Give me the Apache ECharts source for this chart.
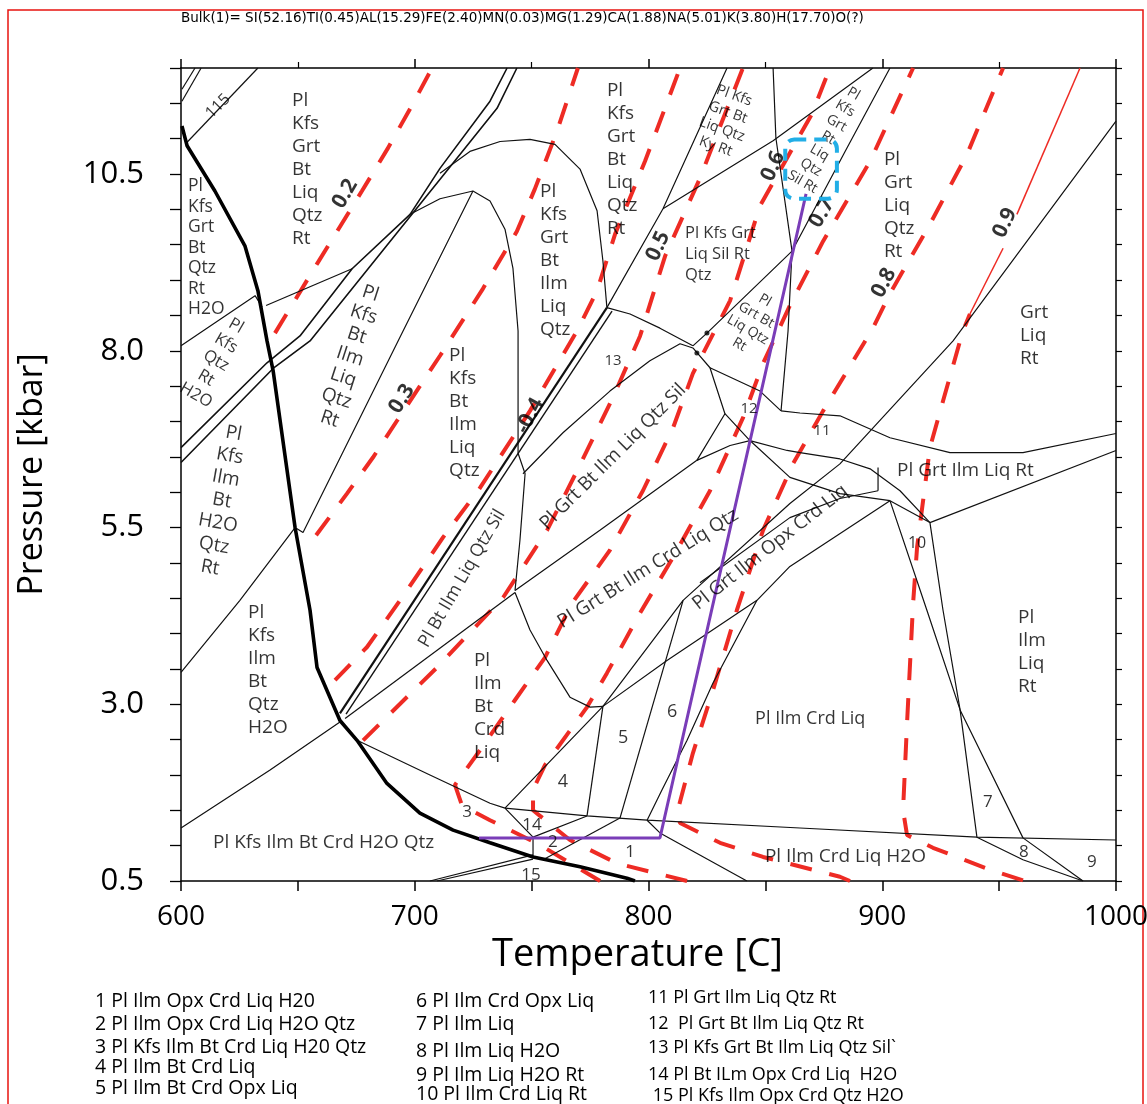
<!DOCTYPE html>
<html lang="en">
<head>
<meta charset="UTF-8">
<title>P-T pseudosection</title>
<script src="https://cdn.jsdelivr.net/npm/echarts@6/dist/echarts.min.js"></script>
<style>
  body{margin:0;background:#fff;}
  #chart{width:1147px;height:1104px;}
</style>
</head>
<body>
<div id="chart"></div>
<script>
// bulk composition header
var bulkTitle = 'Bulk(1)= SI(52.16)TI(0.45)AL(15.29)FE(2.40)MN(0.03)MG(1.29)CA(1.88)NA(5.01)K(3.80)H(17.70)O(?)';

// --- field boundaries, [T (C), P (kbar)] ---
var solidus = [[600.4,11.18],[602.6,10.90],[614.5,10.26],[627.4,9.48],[632.9,8.85],[636.8,8.14],[639.4,7.72],[648.8,5.50],[655.2,4.33],[658.2,3.52],[668.0,2.77],[675.3,2.49],[688.1,1.88],[702.2,1.46],[716.4,1.22],[732.2,1.04],[750.6,0.84],[770.7,0.70],[790.8,0.54],[794.2,0.50]];
var bundleA = [[600,6.63],[636.8,7.83],[650.9,8.21],[673.2,9.16],[698.0,9.93],[710.8,10.58],[732.2,11.53],[739.5,12.0]];
var bundleB = [[600,6.42],[639.4,7.75],[655.2,8.14],[712.9,10.51],[735.2,11.43],[743.7,12.0]];
var bundleC1 = [[668.0,2.87],[782.2,8.61]];
var bundleC2 = [[670.6,2.86],[784.4,8.56]];
var boundaries = [
  [[632.9,12.0],[602.6,10.95]],
  [[608.6,12.0],[600.4,11.53]],
  [[606.0,12.0],[600.4,11.70]],
  [[600,8.07],[631.7,8.78],[634.7,8.62]],
  [[636.4,8.64],[673.2,9.16]],
  [[710.8,10.51],[723.6,10.82],[736.5,10.96],[749.3,10.99],[760.0,10.92],[770.7,10.57],[778.0,9.98],[780.5,9.27],[782.2,8.61]],
  [[698.0,9.93],[710.8,10.15],[724.9,10.26],[732.2,10.12],[738.6,9.72],[742.0,9.17],[744.2,8.28],[744.2,6.55],[747.2,6.26],[745.0,5.32],[742.9,4.61]],
  [[600,3.45],[625.2,4.47],[648.8,5.50],[652.2,5.43],[695.0,8.28],[724.9,10.26]],
  [[600,1.25],[638.1,2.07],[668.0,2.75]],
  [[782.2,8.61],[806.2,10.01],[833.6,12.0]],
  [[806.2,10.01],[853.3,10.97],[896.0,12.0]],
  [[853.3,12.0],[854.5,11.01],[861.4,9.41]],
  [[903.3,12.0],[884.1,10.82],[864.8,9.62],[861.4,9.41]],
  [[819.0,8.07],[825.0,8.25],[861.4,9.41]],
  [[861.4,9.41],[859.7,8.28],[856.7,7.15]],
  [[782.2,8.61],[792.1,8.52],[804.9,8.32],[819.0,8.07]],
  [[746.3,6.26],[763.4,6.84],[783.5,7.43],[800.6,7.86],[813.5,8.10],[819.0,8.04]],
  [[819.0,8.04],[826.3,7.76],[832.7,7.11],[820.7,6.45]],
  [[826.3,7.76],[847.7,7.43],[856.7,7.15]],
  [[832.7,7.11],[843.4,6.73],[859.3,6.59],[864.8,6.56]],
  [[820.7,6.45],[834.9,6.66],[843.4,6.73]],
  [[843.4,6.73],[860.5,6.21],[881.9,5.98],[903.3,5.88]],
  [[742.9,4.61],[779.2,5.46],[820.7,6.45]],
  [[856.7,7.15],[864.8,7.12],[881.9,7.08],[903.3,6.77],[929.0,6.56],[960.2,6.56],[1000,6.83]],
  [[920.4,5.57],[1000,6.59]],
  [[864.8,6.56],[881.9,6.47],[894.8,6.33],[907.6,6.02],[920.4,5.57]],
  [[1000,11.25],[930.3,8.14],[881.9,6.40],[860.5,5.84],[814.8,4.47],[780.5,2.97],[738.6,1.53]],
  [[822.0,4.72],[860.5,5.64],[881.9,5.91],[898.2,6.02]],
  [[780.5,2.97],[807.9,3.62],[846.4,4.47],[860.5,4.95],[903.3,5.88]],
  [[898.2,6.35],[898.2,6.02]],
  [[903.3,5.88],[920.4,5.57]],
  [[903.3,5.88],[919.1,4.33],[933.3,2.92],[960.2,1.11],[985.9,0.5]],
  [[920.4,5.57],[926.0,4.33],[933.3,2.92],[940.5,1.12],[960.2,0.80],[985.9,0.5]],
  [[738.6,1.53],[773.7,1.42],[799.4,1.36],[864.8,1.25],[940.5,1.12],[1000,1.08]],
  [[742.9,4.58],[749.3,4.05],[756.6,3.62],[766.4,3.10],[775.0,2.96],[780.5,2.97]],
  [[780.5,2.97],[773.7,1.42]],
  [[814.8,4.47],[787.8,1.39]],
  [[846.4,4.47],[827.6,3.30],[816.5,2.49],[805.8,1.79],[799.4,1.36]],
  [[675.3,2.49],[706.5,2.00],[732.2,1.60],[738.6,1.53]],
  [[738.6,1.53],[750.6,1.12],[773.7,1.42]],
  [[750.6,1.12],[750.6,0.84]],
  [[754.9,0.80],[787.8,1.39]],
  [[799.4,1.36],[804.9,1.18],[842.1,0.5]],
  [[706.5,0.5],[750.6,0.87]],
  [[709.5,0.5],[750.6,0.81]],
  [[670.2,2.80],[742.9,4.58]]
];
var junctionDots = [[825.0,8.25],[820.7,7.97]];

// --- isopleths (red dashed) ---
var iso02 = [[640.2,8.25],[658.2,9.23],[677.4,10.26],[688.6,10.87],[699.3,11.50],[707.4,12.0]];
var iso03 = [[657.8,5.39],[671.0,5.98],[682.1,6.49],[692.4,7.01],[710.8,7.93],[729.2,8.88],[743.7,9.69],[751.4,10.29],[760.9,11.11],[769.8,12.0]];
var iso04 = [[665.9,3.34],[679.6,3.81],[693.7,4.47],[712.1,5.36],[727.9,6.06],[749.3,7.15],[769.4,8.28],[778.0,8.85],[785.7,9.65],[798.5,10.68],[813.5,12.0]];
var iso05 = [[677.9,2.49],[709.5,3.52],[737.8,4.51],[756.6,5.46],[769.4,6.30],[784.8,7.34],[796.4,8.21],[807.1,9.34],[822.0,10.44],[840.4,12.0]];
var iso06 = [[779.3,0.50],[753.6,1.01],[732.2,1.36],[720.2,1.57],[717.2,1.86],[727.9,2.35],[742.9,3.06],[755.7,3.66],[767.3,4.43],[783.5,5.18],[797.6,6.02],[810.5,6.91],[819.0,7.68],[834.9,8.71],[847.7,10.05],[869.9,11.35],[877.6,12.0]];
var iso07 = [[816.5,0.50],[786.5,0.75],[766.4,1.08],[750.6,1.50],[750.6,1.79],[755.7,2.14],[773.7,2.96],[782.2,3.44],[796.4,4.29],[810.5,5.08],[826.3,6.02],[840.4,7.05],[849.0,7.82],[860.5,8.64],[874.7,9.55],[894.8,10.68],[913.2,12.0]];
var iso08 = [[886.2,0.5],[881.9,0.56],[849.0,0.84],[830.6,1.04],[813.5,1.32],[812.2,1.46],[819.0,2.31],[827.6,3.20],[837.8,4.33],[849.0,5.46],[861.8,6.40],[874.7,7.15],[896.0,8.32],[903.3,8.81],[920.4,9.79],[936.3,10.78],[951.7,12.0]];
var iso09 = [[960.2,0.51],[946.1,0.66],[921.7,0.97],[910.6,1.15],[908.9,1.50],[910.6,2.73],[913.2,4.43],[914.9,5.22],[920.4,6.63],[926.0,7.29],[934.5,8.28],[937.5,8.52]];
var iso09solidLow = [[937.5,8.52],[951.7,9.45]];
var iso09solidHigh = [[957.6,9.93],[984.6,12.0]];

// --- P-T path ---
var ptPath = [[727.5,1.11],[804.9,1.11],[867.4,10.22]];
var boxCorners = [[858.5,10.99],[880.6,10.15]];

// --- field / isopleth labels: [T, P, text, rotation, size, lineHeight, align] ---
var fieldLabels = [
  [647.5,10.56,'Pl\nKfs\nGrt\nBt\nLiq\nQtz\nRt',0,19,23,'left'],
  [603.0,9.46,'Pl\nKfs\nGrt\nBt\nQtz\nRt\nH2O',0,17.5,20.5,'left'],
  [714.7,7.12,'Pl\nKfs\nBt\nIlm\nLiq\nQtz',0,19,23,'left'],
  [753.6,9.27,'Pl\nKfs\nGrt\nBt\nIlm\nLiq\nQtz',0,19,23,'left'],
  [782.2,10.70,'Pl\nKfs\nGrt\nBt\nLiq\nQtz\nRt',0,19,23,'left'],
  [815.6,9.36,'Pl Kfs Grt\nLiq Sil Rt\nQtz',0,16.5,21,'left'],
  [900.7,10.06,'Pl\nGrt\nLiq\nQtz\nRt',0,19,23,'left'],
  [958.9,8.21,'Grt\nLiq\nRt',0,19,23,'left'],
  [906.3,6.30,'Pl Grt Ilm Liq Rt',0,19,20,'left'],
  [958.1,3.74,'Pl\nIlm\nLiq\nRt',0,19,23,'left'],
  [845.6,2.80,'Pl Ilm Crd Liq',0,18,20,'left'],
  [849.8,0.84,'Pl Ilm Crd Liq H2O',0,19,20,'left'],
  [613.7,1.05,'Pl Kfs Ilm Bt Crd H2O Qtz',0,19,20,'left'],
  [628.7,3.48,'Pl\nKfs\nIlm\nBt\nQtz\nH2O',0,19,23,'left'],
  [725.3,2.97,'Pl\nIlm\nBt\nCrd\nLiq',0,19,23,'left'],
  [615.0,7.86,'Pl\nKfs\nQtz\nRt\nH2O',-30,16.5,20,'center'],
  [672.3,7.92,'Pl\nKfs\nBt\nIlm\nLiq\nQtz\nRt',-18,19,22,'center'],
  [617.5,5.88,'Pl\nKfs\nIlm\nBt\nH2O\nQtz\nRt',-10,19,22.7,'center'],
  [832.7,11.25,'Pl Kfs\nGrt Bt\nLiq Qtz\nKy Rt',-20,14.5,18,'center'],
  [876.8,11.01,'Pl\nKfs\nGrt\nRt\nLiq\nQtz\nSil Rt',-30,14,17,'center'],
  [844.3,8.40,'Pl\nGrt Bt\nLiq Qtz\nRt',-30,14,17,'center'],
  [720.2,4.78,'Pl Bt Ilm Liq Qtz Sil',60,18,20,'center'],
  [784.8,6.50,'Pl Grt Bt Ilm Liq Qtz Sil',45,19,20,'center'],
  [799.8,4.92,'Pl Grt Bt Ilm Crd Liq Qtz',32,19,20,'center'],
  [852.0,5.22,'Pl Grt Ilm Opx Crd Liq',38,19,20,'center'],
  [615.8,11.46,'115',45,16,18,'center'],
  [784.8,7.86,'13',0,15,16,'center'],
  [843.0,7.18,'12',0,15,16,'center'],
  [874.2,6.87,'11',0,15,16,'center'],
  [914.9,5.27,'10',0,16,16,'center'],
  [945.2,1.62,'7',0,17,16,'center'],
  [960.6,0.91,'8',0,17,16,'center'],
  [989.7,0.77,'9',0,17,16,'center'],
  [810.1,2.89,'6',0,18,16,'center'],
  [789.1,2.52,'5',0,18,16,'center'],
  [763.4,1.90,'4',0,18,16,'center'],
  [722.4,1.47,'3',0,17,16,'center'],
  [750.2,1.29,'14',0,17,16,'center'],
  [759.1,1.05,'2',0,17,16,'center'],
  [792.1,0.91,'1',0,17,16,'center'],
  [749.7,0.58,'15',0,17,16,'center']
];
var isoLabels = [
  [670.2,10.22,'0.2',60],
  [694.5,7.32,'0.3',58],
  [749.3,7.08,'-0.4',62],
  [804.1,9.48,'0.5',65],
  [853.3,10.61,'0.6',65],
  [874.2,9.95,'0.7',60],
  [900.7,8.96,'0.8',62],
  [952.5,9.81,'0.9',65]
];

// --- assemblage key under the plot ---
var keyCol1 = ['1 Pl Ilm Opx Crd Liq H20','2 Pl Ilm Opx Crd Liq H2O Qtz','3 Pl Kfs Ilm Bt Crd Liq H20 Qtz','4 Pl Ilm Bt Crd Liq','5 Pl Ilm Bt Crd Opx Liq'];
var keyCol2 = ['6 Pl Ilm Crd Opx Liq','7 Pl Ilm Liq','8 Pl Ilm Liq H2O','9 Pl Ilm Liq H2O Rt','10 Pl Ilm Crd Liq Rt'];
var keyCol3 = ['11 Pl Grt Ilm Liq Qtz Rt','12  Pl Grt Bt Ilm Liq Qtz Rt','13 Pl Kfs Grt Bt Ilm Liq Qtz Sil`','14 Pl Bt ILm Opx Crd Liq  H2O',' 15 Pl Kfs Ilm Opx Crd Qtz H2O'];

var FONT = 'Open Sans';
var RED = '#ee2b24';

function lineSeries(data, color, width, type, z) {
  return {
    type: 'line', data: data, symbol: 'none', silent: true, animation: false,
    lineStyle: {color: color, width: width, type: type || 'solid', cap: 'butt'},
    z: z || 3
  };
}

var chart = echarts.init(document.getElementById('chart'));
var series = [];
boundaries.forEach(function (b) { series.push(lineSeries(b, '#111', 1.2)); });
series.push(lineSeries(bundleA, '#111', 1.6));
series.push(lineSeries(bundleB, '#111', 1.6));
series.push(lineSeries(bundleC1, '#111', 2.2));
series.push(lineSeries(bundleC2, '#111', 1.4));
series.push(lineSeries(solidus, '#000', 3.6, 'solid', 4));
[iso02, iso03, iso04, iso05, iso06, iso07, iso08, iso09].forEach(function (s) {
  series.push(lineSeries(s, RED, 4, [22, 18], 2));
});
series.push(lineSeries(iso09solidLow, RED, 1.5, 'solid', 2));
series.push(lineSeries(iso09solidHigh, RED, 1.5, 'solid', 2));
series.push(lineSeries(ptPath, '#7a3db8', 3, 'solid', 5));
series.push({
  type: 'scatter', data: junctionDots, symbolSize: 5, silent: true, animation: false,
  itemStyle: {color: '#000'}, z: 5
});

function labelSeries(items) {
  return {
    type: 'scatter', symbolSize: 1, silent: true, animation: false, z: 6,
    itemStyle: {color: 'transparent'},
    labelLayout: {hideOverlap: false},
    data: items
  };
}
series.push(labelSeries(fieldLabels.map(function (l) {
  return {
    value: [l[0], l[1]],
    label: {
      show: true, position: 'inside', formatter: l[2], rotate: l[3],
      fontSize: l[4], lineHeight: l[5], align: l[6], verticalAlign: 'middle',
      color: '#000', fontFamily: FONT
    }
  };
})));
series.push(labelSeries(isoLabels.map(function (l) {
  return {
    value: [l[0], l[1]],
    label: {
      show: true, position: 'inside', formatter: l[2], rotate: l[3],
      fontSize: 21, fontWeight: 'bold', color: '#000', fontFamily: FONT,
      align: 'center', verticalAlign: 'middle'
    }
  };
})));

var axisLineStyle = {lineStyle: {color: '#000', width: 1.5}};
var graphics = [
  {type: 'rect', id: 'border', shape: {x: 8, y: 10, width: 1135, height: 1100},
   style: {fill: 'none', stroke: '#e8130f', lineWidth: 1.5}, silent: true},
  {type: 'text', id: 'title', left: 181, top: 11,
   style: {text: bulkTitle, fontSize: 13.5, fontFamily: 'DejaVu Sans', fill: '#000'}}
];
[[keyCol1, 95, [1001, 1024, 1047, 1067, 1088], 19.5],
 [keyCol2, 416, [1001, 1024, 1051, 1075, 1094], 19.5],
 [keyCol3, 648, [998, 1024, 1048, 1075, 1096], 18]].forEach(function (col, ci) {
  col[0].forEach(function (t, i) {
    graphics.push({type: 'text', id: 'key' + ci + '_' + i, x: col[1], y: col[2][i],
      style: {text: t, fontSize: col[3], fontFamily: FONT, fill: '#000', verticalAlign: 'middle'}});
  });
});

chart.setOption({
  animation: false,
  backgroundColor: '#fff',
  grid: {left: 181, right: 31, top: 68, bottom: 223, containLabel: false, outerBoundsMode: 'none'},
  xAxis: [{
    type: 'value', min: 600, max: 1000, interval: 50, position: 'bottom',
    axisLine: axisLineStyle,
    axisTick: {length: 10, lineStyle: {color: '#000', width: 1.5}},
    axisLabel: {fontSize: 28, color: '#000', fontFamily: FONT, margin: 22,
      formatter: function (v) { return v % 100 === 0 ? String(v) : ''; }},
    splitLine: {show: false},
    name: 'Temperature [C]', nameLocation: 'middle', nameGap: 54,
    nameTextStyle: {fontSize: 38, color: '#000', fontFamily: FONT, padding: [0, 22, 0, 0]}
  }, {
    type: 'value', min: 600, max: 1000, interval: 100, position: 'top',
    axisLine: axisLineStyle,
    axisTick: {length: 9, lineStyle: {color: '#000', width: 1.5}},
    minorTick: {show: true, splitNumber: 2, length: 6, lineStyle: {color: '#000', width: 1.2}},
    axisLabel: {show: false}, splitLine: {show: false}
  }],
  yAxis: [{
    type: 'value', min: 0.5, max: 12, interval: 0.5, position: 'left',
    axisLine: axisLineStyle,
    axisTick: {length: 11, lineStyle: {color: '#000', width: 1.3}},
    axisLabel: {fontSize: 31, color: '#000', fontFamily: FONT, margin: 37,
      formatter: function (v) {
        var k = (v - 0.5) / 2.5;
        return Math.abs(k - Math.round(k)) < 1e-6 ? v.toFixed(1) : '';
      }},
    splitLine: {show: false},
    name: 'Pressure [kbar]', nameLocation: 'middle', nameGap: 132,
    nameTextStyle: {fontSize: 34, color: '#000', fontFamily: FONT}
  }, {
    type: 'value', min: 0.5, max: 12, interval: 0.5, position: 'right',
    axisLine: axisLineStyle,
    axisTick: {length: 6, lineStyle: {color: '#000', width: 1.2}},
    axisLabel: {show: false}, splitLine: {show: false}
  }],
  graphic: graphics,
  series: series
});

// dashed highlight box, placed from data coordinates
var p1 = chart.convertToPixel({xAxisIndex: 0, yAxisIndex: 0}, boxCorners[0]);
var p2 = chart.convertToPixel({xAxisIndex: 0, yAxisIndex: 0}, boxCorners[1]);
chart.setOption({
  graphic: [{
    type: 'rect', id: 'hlbox', z: 10, silent: true,
    shape: {x: p1[0], y: p1[1], width: p2[0] - p1[0], height: p2[1] - p1[1], r: 9},
    style: {fill: 'none', stroke: '#22aee6', lineWidth: 4, lineDash: [12, 8]}
  }]
});
</script>
</body>
</html>
